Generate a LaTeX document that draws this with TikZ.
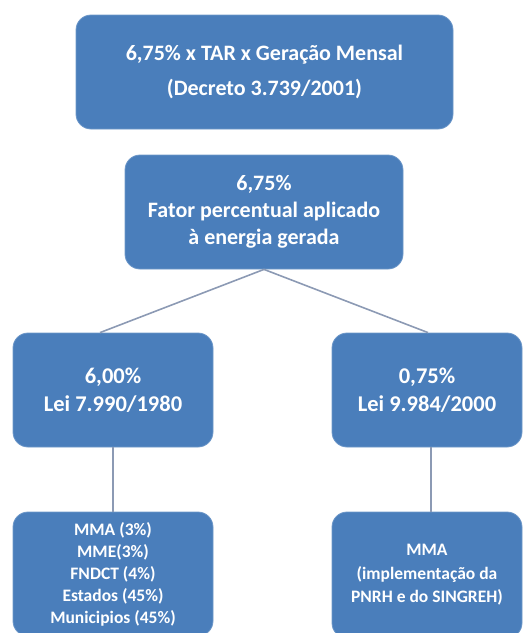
\documentclass[tikz,border=0pt]{standalone}
\usepackage{fontspec}
\setmainfont{Carlito}
\definecolor{boxblue}{HTML}{4A7EBB}
\definecolor{linegray}{HTML}{8C9AB4}
\begin{document}
\begin{tikzpicture}[x=1pt,y=-1pt,
  blk/.style={rectangle, rounded corners=15pt, fill=boxblue, draw=boxblue!80!white, line width=0.8pt,
    text=white, align=center, font=\bfseries, inner sep=0pt},
  conn/.style={draw=linegray, line width=1.6pt}]
\useasboundingbox (0,0) rectangle (525,633);
\node[blk, minimum width=377pt, minimum height=114pt, font=\bfseries\fontsize{22}{35}\selectfont] (top) at (264.5,72)
  {6,75\% x TAR x Geração Mensal\\(Decreto 3.739/2001)};
\node[blk, minimum width=278pt, minimum height=114pt, font=\bfseries\fontsize{22}{27}\selectfont] (mid) at (264,212)
  {6,75\%\\Fator percentual aplicado\\à energia gerada};
\node[blk, minimum width=200pt, minimum height=114pt, font=\bfseries\fontsize{22.5}{28}\selectfont] (left) at (113,390)
  {6,00\%\\Lei 7.990/1980};
\node[blk, minimum width=190pt, minimum height=114pt, font=\bfseries\fontsize{22.5}{28}\selectfont] (right) at (427,390)
  {0,75\%\\Lei 9.984/2000};
\node[blk, minimum width=200pt, minimum height=124pt, font=\bfseries\fontsize{17.5}{22}\selectfont] (bl) at (113,574)
  {MMA (3\%)\\MME(3\%)\\FNDCT (4\%)\\Estados (45\%)\\Municipios (45\%)};
\node[blk, minimum width=190pt, minimum height=126pt, font=\bfseries\fontsize{17.5}{23.5}\selectfont] (br) at (427,575)
  {MMA\\(implementação da\\PNRH e do SINGREH)};
\draw[conn] (mid.south) -- (left.north -| 100,0);
\draw[conn] (mid.south) -- (right.north -| 428,0);
\draw[conn] (left.south) -- (bl.north);
\draw[conn] (right.south -| 431,0) -- (br.north -| 431,0);
\end{tikzpicture}
\end{document}
